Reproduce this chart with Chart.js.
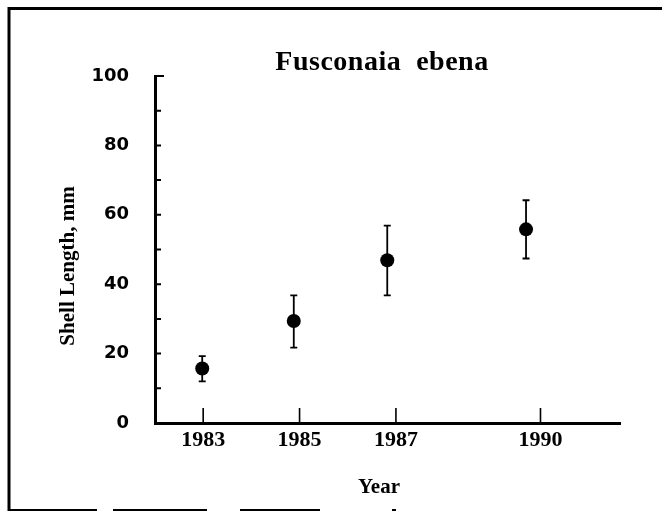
<!DOCTYPE html>
<html>
<head>
<meta charset="utf-8">
<script src="https://cdn.jsdelivr.net/npm/chart.js@4"></script>
<style>
  html, body { margin: 0; padding: 0; background: #fff; }
  #wrap { position: relative; width: 662px; height: 515px; }
</style>
</head>
<body>
<div id="wrap"><canvas id="shell"></canvas></div>
<script>
// values
var sampleYears = [1982.98, 1984.88, 1986.82, 1989.7];
var meanLength  = [15.7, 29.4, 46.9, 55.8];
var upperLength = [19.3, 36.8, 56.9, 64.2];
var lowerLength = [12.0, 21.7, 36.8, 47.4];
var yearTicks   = [1983, 1985, 1987, 1990];

var points = sampleYears.map(function (x, i) { return { x: x, y: meanLength[i] }; });

// error bars, drawn with the chart's own scales
var errorBars = {
    id: 'errorBars',
    beforeDatasetsDraw: function (chart) {
        var ctx = chart.ctx, xs = chart.scales.x, ys = chart.scales.y;
        ctx.save();
        ctx.strokeStyle = '#000';
        ctx.lineWidth = 1.8;
        sampleYears.forEach(function (yr, i) {
            var px = xs.getPixelForValue(yr);
            var top = ys.getPixelForValue(upperLength[i]);
            var bot = ys.getPixelForValue(lowerLength[i]);
            ctx.beginPath();
            ctx.moveTo(px, top); ctx.lineTo(px, bot);
            ctx.moveTo(px - 3.5, top); ctx.lineTo(px + 3.5, top);
            ctx.moveTo(px - 3.5, bot); ctx.lineTo(px + 3.5, bot);
            ctx.stroke();
        });
        ctx.restore();
    }
};

// inward tick marks, titles and the frame round the figure
var decor = {
    id: 'decor',
    afterDraw: function (chart) {
        var ctx = chart.ctx, xs = chart.scales.x, ys = chart.scales.y;
        var a = chart.chartArea;
        ctx.save();
        ctx.strokeStyle = '#000';
        ctx.lineWidth = 2;
        ctx.beginPath();
        for (var v = 0; v <= 100; v += 10) {
            var py = ys.getPixelForValue(v);
            ctx.moveTo(a.left, py); ctx.lineTo(a.left + (v === 100 ? 9 : 6), py);
        }
        ctx.stroke();
        ctx.lineWidth = 1.6;
        ctx.beginPath();
        yearTicks.forEach(function (yr) {
            var px = xs.getPixelForValue(yr);
            ctx.moveTo(px, a.bottom); ctx.lineTo(px, a.bottom - 15);
        });
        ctx.stroke();

        ctx.fillStyle = '#000';
        ctx.font = 'bold 28px "Liberation Serif"';
        ctx.letterSpacing = '0.5px';
        ctx.textAlign = 'center';
        ctx.textBaseline = 'alphabetic';
        ctx.fillText('Fusconaia  ebena', 382, 70);
        ctx.letterSpacing = '0px';

        ctx.font = 'bold 21px "Liberation Serif"';
        ctx.fillText('Year', 379, 493);

        ctx.save();
        ctx.translate(69, 266);
        ctx.rotate(-Math.PI / 2);
        ctx.textBaseline = 'middle';
        ctx.fillText('Shell Length, mm', 0, 0);
        ctx.restore();

        // frame
        ctx.lineWidth = 3;
        ctx.beginPath();
        ctx.moveTo(9, 511); ctx.lineTo(9, 8.5); ctx.lineTo(662, 8.5);
        ctx.stroke();
        ctx.lineWidth = 2;
        ctx.beginPath();
        [[8, 97], [113, 207], [240, 320], [392, 396]].forEach(function (s) {
            ctx.moveTo(s[0], 510); ctx.lineTo(s[1], 510);
        });
        ctx.stroke();
        ctx.restore();
    }
};

var chart = new Chart(document.getElementById('shell').getContext('2d'), {
    type: 'scatter',
    data: {
        datasets: [{
            label: 'Shell length',
            data: points,
            pointRadius: 7,
            pointHoverRadius: 7,
            backgroundColor: '#000',
            borderColor: '#000',
            borderWidth: 0
        }]
    },
    options: {
        responsive: true,
        maintainAspectRatio: false,
        animation: false,
        events: [],
        layout: { padding: { top: 76, right: 42, left: 0, bottom: 0 } },
        plugins: {
            legend: { display: false },
            tooltip: { enabled: false },
            title: { display: false }
        },
        scales: {
            x: {
                type: 'linear',
                min: 1982,
                max: 1991.65,
                grid: { display: false, drawTicks: false },
                border: { display: true, width: 3, color: '#000' },
                afterBuildTicks: function (scale) {
                    scale.ticks = yearTicks.map(function (v) { return { value: v }; });
                },
                afterFit: function (scale) { scale.height = 92; },
                ticks: {
                    autoSkip: false,
                    maxRotation: 0,
                    padding: 4,
                    color: '#000',
                    font: { family: 'Liberation Serif', weight: 'bold', size: 22 },
                    callback: function (v) { return String(v); }
                }
            },
            y: {
                min: 0,
                max: 100,
                grid: { display: false, drawTicks: false },
                border: { display: true, width: 3, color: '#000' },
                afterFit: function (scale) { scale.width = 155; },
                ticks: {
                    stepSize: 10,
                    padding: 26,
                    color: '#000',
                    font: { family: 'DejaVu Sans', weight: 'bold', size: 18 },
                    callback: function (v) { return v % 20 === 0 ? String(v) : ''; }
                }
            }
        }
    },
    plugins: [errorBars, decor]
});
</script>
</body>
</html>
